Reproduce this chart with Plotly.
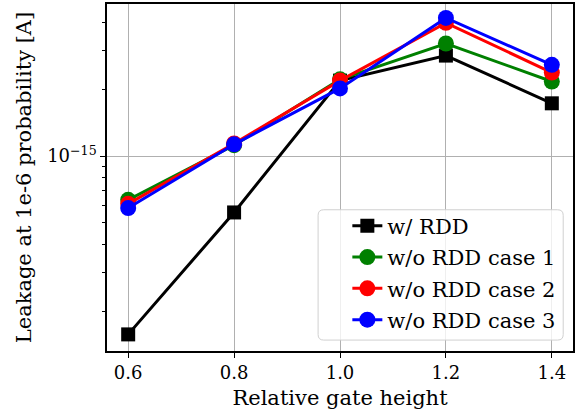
import plotly.graph_objects as go

# Relative gate height (x) and leakage current at 1e-6 probability (A)
gate_height = [0.6, 0.8, 1.0, 1.2, 1.4]
leak_rdd = [1.57e-16, 5.57e-16, 2.19e-15, 2.84e-15, 1.73e-15]
leak_case1 = [6.35e-16, 1.12e-15, 2.22e-15, 3.22e-15, 2.17e-15]
leak_case2 = [6.09e-16, 1.14e-15, 2.19e-15, 3.99e-15, 2.38e-15]
leak_case3 = [5.83e-16, 1.13e-15, 2.02e-15, 4.20e-15, 2.58e-15]

series_names = ["w/ RDD", "w/o RDD case 1", "w/o RDD case 2", "w/o RDD case 3"]
series_values = [leak_rdd, leak_case1, leak_case2, leak_case3]
series_colors = ["black", "green", "red", "blue"]
series_symbols = ["square", "circle", "circle", "circle"]
series_sizes = [14, 16, 16, 16]

x_ticks = [0.6, 0.8, 1.0, 1.2, 1.4]
y_major = [1e-15]
y_major_text = ["10<sup>\u221215</sup>"]
y_minor = [2e-16, 3e-16, 4e-16, 5e-16, 6e-16, 7e-16, 8e-16, 9e-16,
           2e-15, 3e-15, 4e-15]

FONT = "DejaVu Serif"

fig = go.Figure()
for i, (name, vals, col, sym, sz) in enumerate(zip(series_names, series_values, series_colors,
                                                   series_symbols, series_sizes)):
    fig.add_trace(go.Scatter(
        x=gate_height, y=vals, name=name, mode="lines+markers",
        legendgroup=f"g{i}",
        line=dict(color=col, width=3),
        marker=dict(symbol=sym, size=sz, color=col, line=dict(width=0)),
    ))

# rounded, semi-opaque legend frame
x0, x1, y0, y1, r = 0.453, 0.979, 0.0315, 0.407, 0.012
ry = r * 466 / 349
path = (f"M {x0 + r},{y0} L {x1 - r},{y0} Q {x1},{y0} {x1},{y0 + ry} "
        f"L {x1},{y1 - ry} Q {x1},{y1} {x1 - r},{y1} L {x0 + r},{y1} "
        f"Q {x0},{y1} {x0},{y1 - ry} L {x0},{y0 + ry} Q {x0},{y0} {x0 + r},{y0} Z")
fig.add_shape(type="path", path=path, xref="paper", yref="paper",
              fillcolor="rgba(255,255,255,0.8)",
              line=dict(color="#d0d0d0", width=1), layer="above")

fig.update_layout(
    width=580, height=416,
    margin=dict(l=107, r=7, t=2, b=65),
    paper_bgcolor="white", plot_bgcolor="white",
    font=dict(family=FONT, size=20, color="black"),
    showlegend=True,
    legend=dict(x=0.975, y=0.03, xanchor="right", yanchor="bottom",
                bgcolor="rgba(0,0,0,0)", borderwidth=0,
                font=dict(family=FONT, size=21), tracegroupgap=1),
    xaxis=dict(
        range=[0.56, 1.44], tickvals=x_ticks, ticktext=[f"{v:.1f}" for v in x_ticks],
        showgrid=True, gridcolor="#b0b0b0", gridwidth=1, zeroline=False,
        showline=True, linecolor="black", linewidth=1.5, mirror=True,
        ticks="outside", ticklen=5, tickwidth=1.2, tickcolor="black",
        tickfont=dict(family=FONT, size=18),
        title=dict(text="Relative gate height", font=dict(family=FONT, size=21), standoff=8),
    ),
    yaxis=dict(
        type="log", range=[-15.879, -14.314],
        tickvals=y_major, ticktext=y_major_text,
        showgrid=True, gridcolor="#b0b0b0", gridwidth=1, zeroline=False,
        showline=True, linecolor="black", linewidth=1.5, mirror=True,
        ticks="outside", ticklen=5, tickwidth=1.2, tickcolor="black",
        tickfont=dict(family=FONT, size=18),
        minor=dict(tickvals=y_minor, ticks="outside", ticklen=3, tickwidth=1,
                   tickcolor="black", showgrid=False),
        title=dict(text="Leakage at 1e-6 probability [A]", font=dict(family=FONT, size=21), standoff=10),
    ),
)

fig.write_html("out.html")
